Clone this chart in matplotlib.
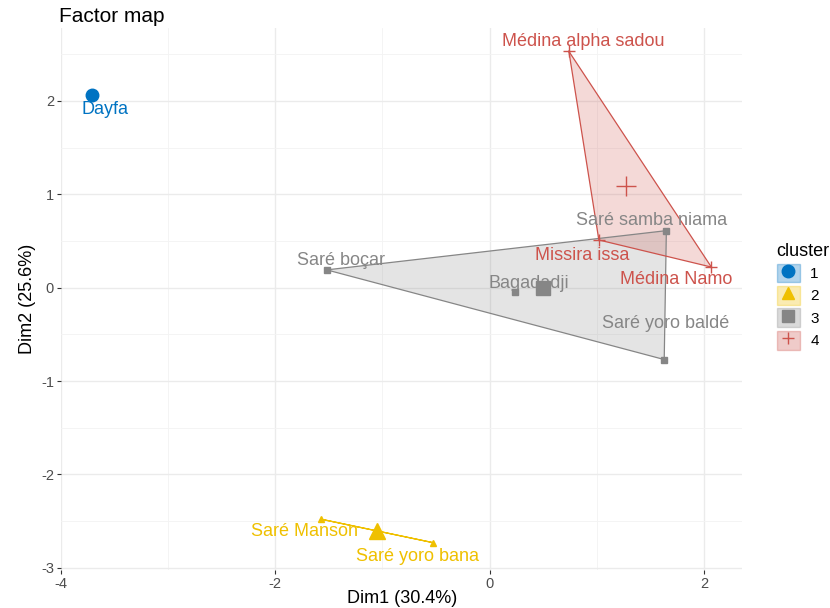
import matplotlib.pyplot as plt
import matplotlib.patches as mpatches
from matplotlib.lines import Line2D
from matplotlib.legend_handler import HandlerTuple
from matplotlib.ticker import MultipleLocator

plt.rcParams['font.family'] = ['Liberation Sans', 'DejaVu Sans']
plt.rcParams['axes.unicode_minus'] = False

# Individuals on the first two dimensions, with their cluster
names = ["Dayfa", "Saré Manson", "Saré yoro bana", "Saré boçar", "Bagadadji",
         "Saré samba niama", "Saré yoro baldé", "Médina alpha sadou",
         "Missira issa", "Médina Namo"]
dim1 = [-3.71, -1.57, -0.53, -1.52, 0.24, 1.65, 1.63, 0.74, 1.02, 2.07]
dim2 = [2.06, -2.48, -2.73, 0.19, -0.05, 0.61, -0.77, 2.53, 0.51, 0.22]
cluster = [1, 2, 2, 3, 3, 3, 3, 4, 4, 4]

# Hull vertex order per cluster (indices into the lists above)
hulls = {2: [1, 2], 3: [3, 5, 6], 4: [7, 8, 9]}

colors = {1: "#0073C2", 2: "#EFC000", 3: "#868686", 4: "#CD534C"}
markers = {1: "o", 2: "^", 3: "s", 4: "+"}
msize = {1: 7, 2: 5, 3: 5, 4: 8}
csize = {1: 9, 2: 11, 3: 10, 4: 14}

# label offsets in points (dx, dy)
offsets = {"Dayfa": (9, -10), "Saré Manson": (-12, -9), "Saré yoro bana": (-11, -10),
           "Saré boçar": (10, 7), "Bagadadji": (10, 6), "Saré samba niama": (-11, 7),
           "Saré yoro baldé": (1, 26), "Médina alpha sadou": (10, 7),
           "Missira issa": (-12, -11), "Médina Namo": (-25, -9)}

fig = plt.figure(figsize=(8.3, 6.08), dpi=100)
ax = fig.add_axes([0.0735, 0.063, 0.821, 0.891])

# convex hulls
for k, idx in hulls.items():
    xs = [dim1[i] for i in idx]
    ys = [dim2[i] for i in idx]
    poly = mpatches.Polygon(list(zip(xs, ys)), closed=True, facecolor=colors[k],
                            alpha=0.22, edgecolor="none", zorder=2)
    ax.add_patch(poly)
    ax.plot(xs + [xs[0]], ys + [ys[0]], color=colors[k], lw=0.9, zorder=3)

# points, centres and labels
for k in colors:
    idx = [i for i, c in enumerate(cluster) if c == k]
    xs = [dim1[i] for i in idx]
    ys = [dim2[i] for i in idx]
    ax.plot(xs, ys, ls="none", marker=markers[k], ms=msize[k], color=colors[k],
            mew=1.0, zorder=4)
    ax.plot(sum(xs) / len(xs), sum(ys) / len(ys), ls="none", marker=markers[k],
            ms=csize[k], color=colors[k], mew=1.0, zorder=4)
    for i in idx:
        ax.annotate(names[i], (dim1[i], dim2[i]), xytext=offsets[names[i]],
                    textcoords="offset points", ha="center", va="center",
                    fontsize=13, color=colors[k], zorder=5)

ax.set_xlim(-4.0, 2.36)
ax.set_ylim(-3.02, 2.78)
ax.xaxis.set_major_locator(MultipleLocator(2))
ax.xaxis.set_minor_locator(MultipleLocator(1))
ax.yaxis.set_major_locator(MultipleLocator(1))
ax.yaxis.set_minor_locator(MultipleLocator(0.5))
ax.grid(which="major", color="#EBEBEB", lw=1.0, zorder=0)
ax.grid(which="minor", color="#F3F3F3", lw=0.6, zorder=0)
ax.set_axisbelow(True)
for s in ax.spines.values():
    s.set_visible(False)
ax.tick_params(which="major", length=3, color="#333333", labelcolor="#4D4D4D",
               labelsize=10.5, pad=2)
ax.tick_params(which="minor", length=0)

ax.set_xlabel("Dim1 (30.4%)", fontsize=13, va="center")
ax.xaxis.set_label_coords(0.5, -0.054)
ax.set_ylabel("Dim2 (25.6%)", fontsize=13, labelpad=4)
ax.set_title("Factor map", loc="left", fontsize=15, x=-0.003, pad=4)

# legend keys: filled box with the marker drawn on top
handles = []
for k in colors:
    box = mpatches.Rectangle((0, 0), 1, 1, facecolor=colors[k], alpha=0.3,
                             edgecolor=colors[k], lw=1.0)
    mk = Line2D([], [], ls="none", marker=markers[k], ms=9, color=colors[k], mew=1.0)
    handles.append((box, mk))
leg = ax.legend(handles, ["1", "2", "3", "4"], title="cluster",
                handler_map={tuple: HandlerTuple(ndivide=1, pad=0)},
                loc="center left", bbox_to_anchor=(1.03, 0.505), frameon=False,
                fontsize=11, title_fontsize=13, handlelength=1.5,
                handleheight=1.5, labelspacing=0.25, handletextpad=0.7)
leg._legend_box.align = "left"

fig.savefig("out.png", dpi=100)
